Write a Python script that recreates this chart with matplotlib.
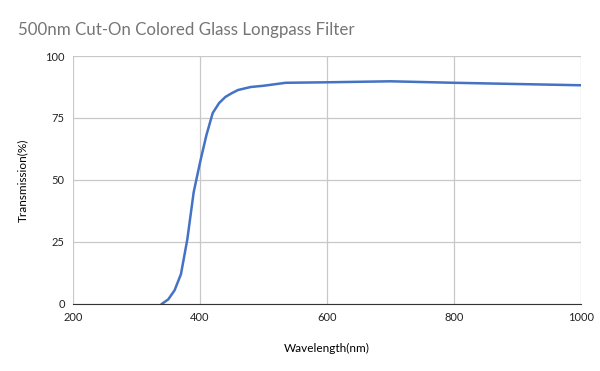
import matplotlib.pyplot as plt

# transmission curve
wavelength = [340, 350, 360, 370, 380, 390, 400, 410, 420, 430, 440, 450,
              460, 480, 500, 535, 600, 700, 800, 1000]
transmission = [0, 1.8, 5.5, 12, 26, 45, 57, 68, 77, 81, 83.5, 85,
                86.3, 87.5, 88, 89.2, 89.4, 89.8, 89.2, 88.2]
x_ticks = [200, 400, 600, 800, 1000]
y_ticks = [0, 25, 50, 75, 100]

plt.rcParams['font.family'] = ['Lato', 'DejaVu Sans']

fig = plt.figure(figsize=(6, 3.71), dpi=100)
ax = fig.add_axes([0.1217, 0.181, 0.8466, 0.668])
ax.plot(wavelength, transmission, color='#4472c4', linewidth=1.8)

ax.set_xlim(200, 1000)
ax.set_ylim(0, 100)
ax.set_xticks(x_ticks)
ax.set_yticks(y_ticks)
ax.grid(True, color='#c8c8c8', linewidth=0.9)
ax.set_axisbelow(True)
for s in ['top', 'right', 'left']:
    ax.spines[s].set_visible(False)
ax.spines['bottom'].set_color('#333333')
ax.tick_params(length=0, labelsize=8, colors='#222222', pad=6)

ax.set_xlabel('Wavelength(nm)', fontsize=8.5, labelpad=14)
ax.set_ylabel('Transmission(%)', fontsize=8.5, labelpad=12)
fig.text(0.03, 0.919, '500nm Cut-On Colored Glass Longpass Filter',
         fontsize=12.2, color='#757575', va='center', ha='left')

fig.savefig('out.png')
